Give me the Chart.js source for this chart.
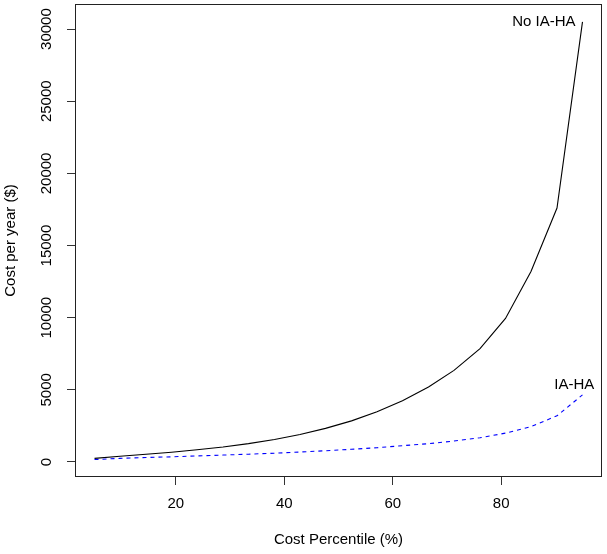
<!DOCTYPE html>
<html>
<head>
<meta charset="utf-8">
<script src="https://cdn.jsdelivr.net/npm/chart.js@4/dist/chart.umd.min.js"></script>
<style>
  html, body { margin: 0; padding: 0; background: #fff; }
  #wrap { width: 607px; height: 554px; position: relative; }
</style>
</head>
<body>
<div id="wrap"><canvas id="c" width="607" height="554"></canvas></div>
<script>
// Cost percentile (%) - x positions of the points
const percentiles = [5, 9.7, 14.5, 19.2, 23.9, 28.7, 33.4, 38.2, 42.9, 47.6,
                     52.4, 57.1, 61.8, 66.6, 71.3, 76.1, 80.8, 85.5, 90.3, 95];
// Cost per year ($) without IA-HA
const costNoIAHA = [250, 400, 540, 680, 850, 1040, 1270, 1560, 1900, 2330,
                    2850, 3480, 4250, 5200, 6350, 7850, 9950, 13200, 17600, 30500];
// Cost per year ($) with IA-HA
const costIAHA = [170, 250, 310, 360, 420, 480, 540, 610, 690, 780,
                  880, 990, 1130, 1270, 1450, 1680, 2000, 2450, 3200, 4650];
// Tick values
const xTicks = [20, 40, 60, 80];
const yTicks = [0, 5000, 10000, 15000, 20000, 25000, 30000];
// Curve labels (text, anchor x, anchor y in data units)
const curveLabels = ['No IA-HA', 'IA-HA'];
const curveLabelX = [95, 93.5];
const curveLabelY = [30500, 5340];
const xTitle = 'Cost Percentile (%)';
const yTitle = 'Cost per year ($)';

const FONT = "'Liberation Sans', Arial, Helvetica, sans-serif";

const toPts = (xs, ys) => xs.map((x, i) => ({x: x, y: ys[i]}));

const boxPlugin = {
  id: 'rbox',
  afterDraw(chart) {
    const {ctx, chartArea: a, scales} = chart;
    ctx.save();
    ctx.strokeStyle = '#222';
    ctx.lineWidth = 1;
    ctx.strokeRect(Math.round(a.left) + 0.5, Math.round(a.top) + 0.5,
                   Math.round(a.right - a.left) - 1, Math.round(a.bottom - a.top) - 1);
    ctx.fillStyle = '#000';
    ctx.font = '15px ' + FONT;
    ctx.textBaseline = 'middle';
    ctx.textAlign = 'right';
    ctx.fillText(curveLabels[0], scales.x.getPixelForValue(curveLabelX[0]) - 7,
                 scales.y.getPixelForValue(curveLabelY[0]));
    ctx.textAlign = 'center';
    ctx.fillText(curveLabels[1], scales.x.getPixelForValue(curveLabelX[1]),
                 scales.y.getPixelForValue(curveLabelY[1]));
    ctx.restore();
  }
};

new Chart(document.getElementById('c'), {
  type: 'line',
  data: {
    datasets: [
      {
        label: 'No IA-HA',
        data: toPts(percentiles, costNoIAHA),
        borderColor: '#000',
        borderWidth: 1.1,
        pointRadius: 0,
        tension: 0,
        fill: false
      },
      {
        label: 'IA-HA',
        data: toPts(percentiles, costIAHA),
        borderColor: '#0000ff',
        borderWidth: 1.1,
        borderDash: [4, 4],
        pointRadius: 0,
        tension: 0,
        fill: false
      }
    ]
  },
  options: {
    responsive: false,
    animation: false,
    devicePixelRatio: 1,
    layout: { padding: { top: 4, right: 5, left: 0, bottom: 0 } },
    plugins: { legend: { display: false }, tooltip: { enabled: false } },
    scales: {
      x: {
        type: 'linear',
        min: 1.4,
        max: 98.6,
        afterBuildTicks: (s) => { s.ticks = xTicks.map(v => ({value: v})); },
        afterFit: (s) => { s.height = 77; s.paddingLeft = 0; s.paddingRight = 0; },
        border: { display: false },
        grid: { display: true, drawOnChartArea: false, drawTicks: true, tickLength: 8, color: '#333', tickColor: '#333', tickWidth: 1 },
        ticks: { color: '#000', font: { family: FONT, size: 15 }, padding: 10, maxRotation: 0, minRotation: 0, autoSkip: false },
        title: { display: true, text: xTitle, color: '#000', font: { family: FONT, size: 15 }, padding: { top: 0, bottom: 5 } }
      },
      y: {
        type: 'linear',
        min: -1040,
        max: 31740,
        afterBuildTicks: (s) => { s.ticks = yTicks.map(v => ({value: v})); },
        afterFit: (s) => { s.width = 75; s.paddingTop = 0; s.paddingBottom = 0; },
        border: { display: false },
        grid: { display: true, drawOnChartArea: false, drawTicks: true, tickLength: 8, color: '#333', tickColor: '#333', tickWidth: 1 },
        ticks: { color: '#000', font: { family: FONT, size: 15 }, padding: -1, minRotation: 90, maxRotation: 90, crossAlign: 'center', autoSkip: false,
                 callback: (v) => String(v) },
        title: { display: true, text: yTitle, color: '#000', font: { family: FONT, size: 15 }, padding: { top: 2, bottom: 0 } }
      }
    }
  },
  plugins: [boxPlugin]
});
</script>
</body>
</html>
